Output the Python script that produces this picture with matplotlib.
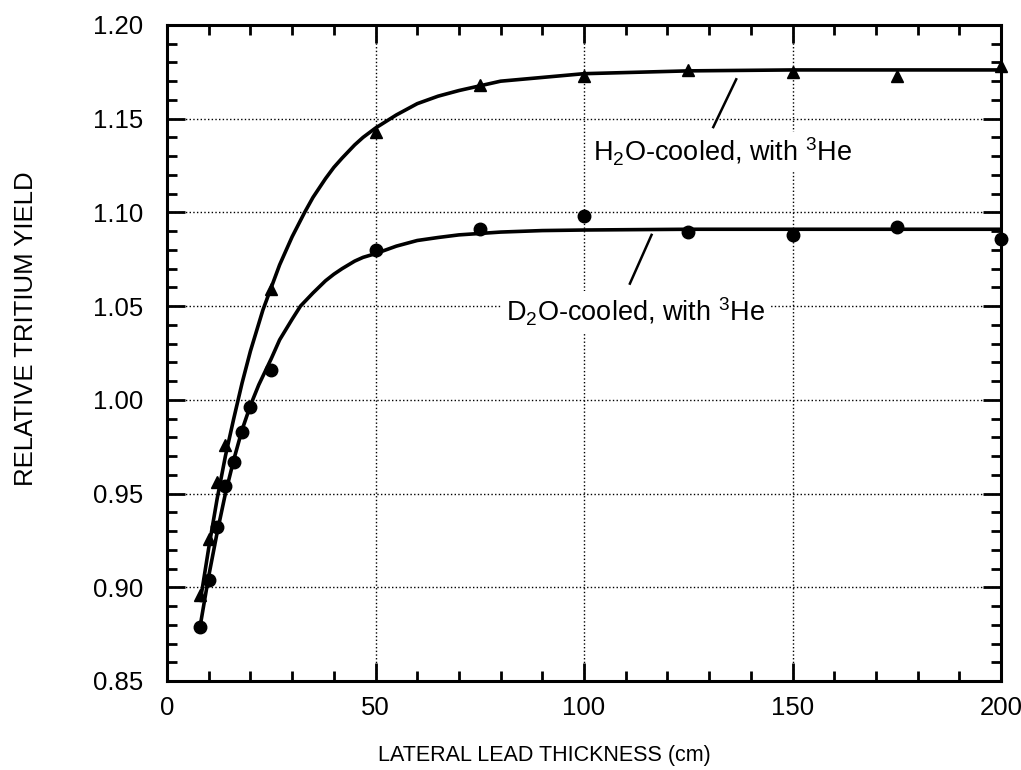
import matplotlib
matplotlib.use("Agg")
import matplotlib.pyplot as plt
from matplotlib.ticker import MultipleLocator, FormatStrFormatter

plt.rcParams['font.family'] = ['Liberation Sans', 'DejaVu Sans']
plt.rcParams['mathtext.fontset'] = 'custom'
plt.rcParams['mathtext.rm'] = 'Liberation Sans'
plt.rcParams['mathtext.it'] = 'Liberation Sans'

# measured points, H2O-cooled (triangles)
pb_h2o = [8, 10, 12, 14, 25, 50, 75, 100, 125, 150, 175, 200]
tr_h2o = [0.896, 0.926, 0.956, 0.976, 1.059, 1.143, 1.168, 1.173, 1.176, 1.1748, 1.1727, 1.178]

# measured points, D2O-cooled (circles)
pb_d2o = [8, 10, 12, 14, 16, 18, 20, 25, 50, 75, 100, 125, 150, 175, 200]
tr_d2o = [0.879, 0.904, 0.932, 0.954, 0.967, 0.983, 0.996, 1.016, 1.080, 1.091, 1.098, 1.0895, 1.088, 1.092, 1.086]

# fitted curves
cx_h2o = [8, 10, 12, 14, 16, 18, 20, 23, 25, 27, 30, 33, 35, 38, 40, 42, 45, 47, 50, 55, 60, 65, 70, 80, 90,
          100, 125, 150, 175, 200]
cy_h2o = [0.893, 0.921, 0.947, 0.970, 0.990, 1.009, 1.026, 1.048, 1.060, 1.072, 1.087, 1.100, 1.108, 1.118,
          1.124, 1.129, 1.136, 1.140, 1.145, 1.152, 1.158, 1.162, 1.165, 1.170, 1.172,
          1.174, 1.1755, 1.176, 1.176, 1.176]

cx_d2o = [8, 10, 12, 14, 16, 18, 20, 22, 25, 27, 30, 32, 35, 38, 40, 42, 45, 47, 50, 55, 60, 65, 70, 80, 90,
          100, 125, 150, 175, 200]
cy_d2o = [0.880, 0.906, 0.929, 0.950, 0.968, 0.984, 0.997, 1.008, 1.022, 1.032, 1.043, 1.050, 1.057, 1.0635,
          1.067, 1.070, 1.074, 1.076, 1.078, 1.082, 1.085, 1.0866, 1.088, 1.0895, 1.0903,
          1.0906, 1.091, 1.091, 1.091, 1.091]

lbl_h2o = r'H$_2$O-cooled, with $^3$He'
lbl_d2o = r'D$_2$O-cooled, with $^3$He'

fig = plt.figure(figsize=(10.21, 7.70), dpi=100)
ax = fig.add_axes([0.1636, 0.1156, 0.8168, 0.852])

ax.plot(cx_h2o, cy_h2o, 'k-', lw=2.6, zorder=3, solid_joinstyle='round')
ax.plot(cx_d2o, cy_d2o, 'k-', lw=2.6, zorder=3, solid_joinstyle='round')
ax.plot(pb_h2o, tr_h2o, 'k^', ms=9, clip_on=False, zorder=4)
ax.plot(pb_d2o, tr_d2o, 'ko', ms=9, clip_on=False, zorder=4)

# leader lines
ax.plot([131.0, 136.5], [1.1455, 1.171], 'k-', lw=1.8)
ax.plot([111.0, 116.2], [1.062, 1.088], 'k-', lw=1.8)

box = dict(facecolor='white', edgecolor='none', pad=3)
ax.text(102.2, 1.127, lbl_h2o, fontsize=19.5, ha='left', va='baseline', bbox=box, zorder=2.5)
ax.text(81.4, 1.042, lbl_d2o, fontsize=19.5, ha='left', va='baseline', bbox=box, zorder=2.5)

ax.set_xlim(0, 200)
ax.set_ylim(0.85, 1.20)
ax.xaxis.set_major_locator(MultipleLocator(50))
ax.xaxis.set_minor_locator(MultipleLocator(10))
ax.yaxis.set_major_locator(MultipleLocator(0.05))
ax.yaxis.set_minor_locator(MultipleLocator(0.01))
ax.yaxis.set_major_formatter(FormatStrFormatter('%.2f'))

ax.grid(True, which='major', linestyle=':', color='black', lw=1.0)
ax.tick_params(which='both', direction='in', top=True, right=True, width=2.0, labelsize=18.5)
ax.tick_params(which='major', length=13)
ax.tick_params(which='minor', length=7)
ax.tick_params(axis='x', pad=11)
ax.tick_params(axis='y', pad=17)
for s in ax.spines.values():
    s.set_linewidth(2.2)

ax.set_xlabel('LATERAL LEAD THICKNESS (cm)', fontsize=15.5)
ax.set_ylabel('RELATIVE TRITIUM YIELD', fontsize=18.5)
ax.xaxis.set_label_coords(0.4526, -0.097)
ax.yaxis.set_label_coords(-0.155, 0.537)

fig.savefig('out.png', dpi=100)
